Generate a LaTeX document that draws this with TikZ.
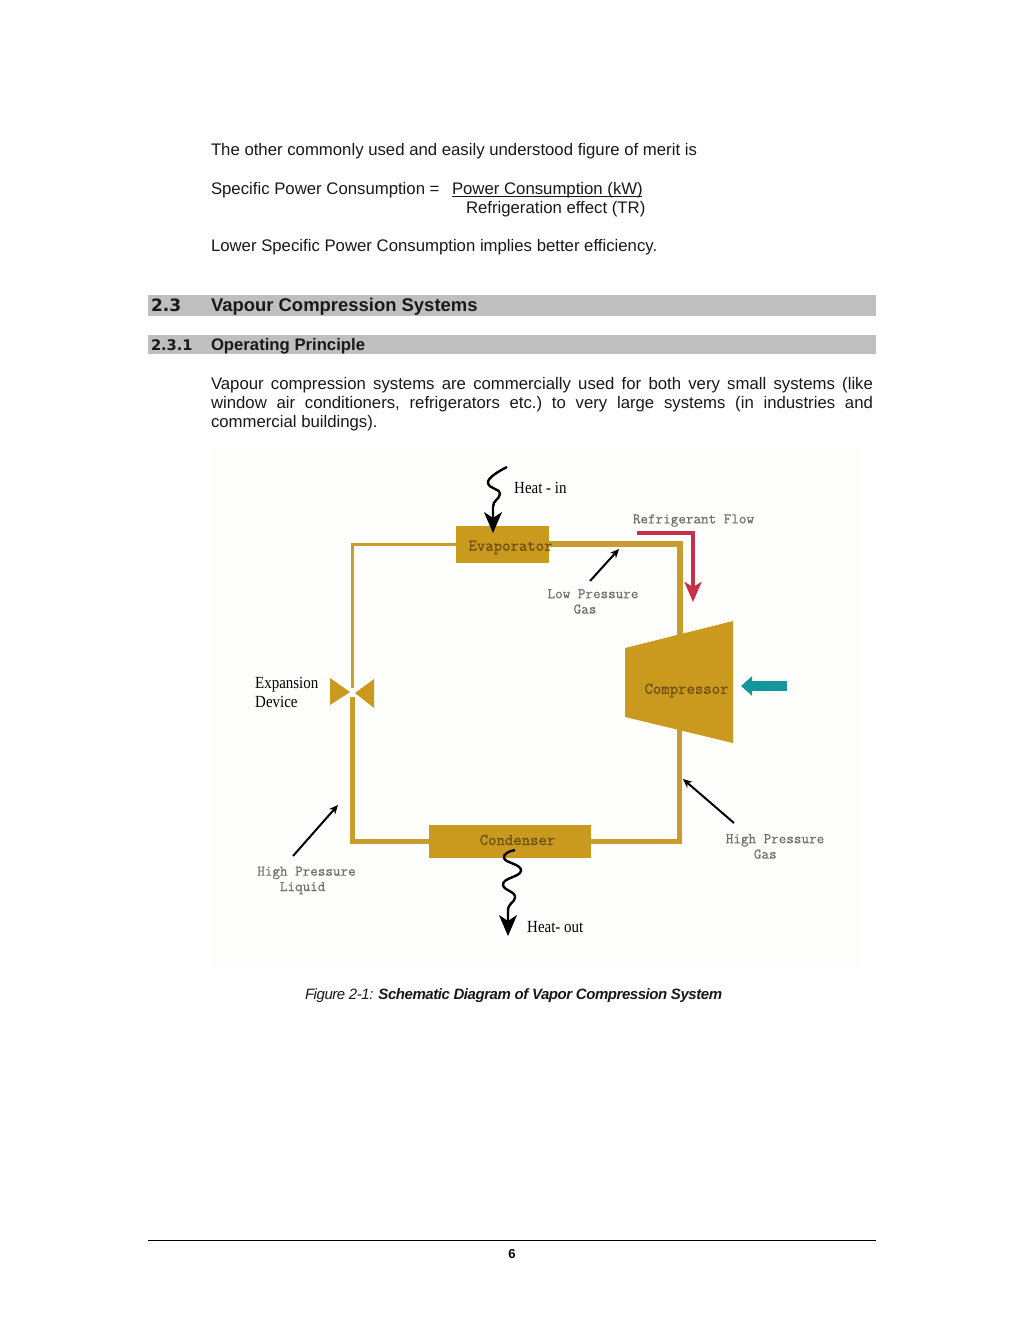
\documentclass[tikz,border=0pt]{standalone}
\usepackage{fontspec}
\setmainfont{Liberation Sans}
\newfontfamily\lserif[FakeStretch=0.88]{Liberation Serif}
\newfontfamily\dvb{DejaVu Sans Bold}
\newfontfamily\capfont[LetterSpace=-3]{Liberation Sans}
\newfontfamily\monoheavy[FakeBold=0.6]{Latin Modern Mono}
\usetikzlibrary{arrows.meta}
\definecolor{gold}{HTML}{C99A1E}
\definecolor{pipegold}{HTML}{C99C2E}
\definecolor{barg}{HTML}{BFBFBF}
\definecolor{labg}{HTML}{707070}
\definecolor{inbox}{HTML}{6B4E12}
\definecolor{redf}{HTML}{C8304A}
\definecolor{teala}{HTML}{14979B}
\definecolor{photo}{HTML}{FEFEFD}
\tikzset{
  x=1pt,y=-1pt,
  body/.style={anchor=base west,inner sep=0,outer sep=0,font=\frenchspacing\fontsize{16.75}{19}\selectfont,text=black!90},
  secbar/.style={fill=barg,draw=none,inner sep=0,anchor=north west,minimum width=728pt},
  unit/.style={fill=gold,draw=none,inner sep=0},
  unittxt/.style={inner sep=0,font=\monoheavy\fontsize{16.3}{18}\selectfont,text=inbox},
  pipe/.style={draw=pipegold,line width=5pt,line join=miter},
  pipethin/.style={draw=pipegold,line width=3pt},
  note/.style={inner sep=0,align=center,font=\monoheavy\fontsize{14.7}{15.4}\selectfont,text=labg},
  serifnote/.style={inner sep=0,align=left,anchor=base west,font=\lserif\fontsize{17}{18.5}\selectfont,text=black},
  pointer/.style={draw=black,line width=2pt,-{Stealth[length=9pt,width=8pt]}},
  heat/.style={draw=black,line width=2.4pt,-{Stealth[length=21pt,width=18pt,inset=6pt]}},
}
\begin{document}
\begin{tikzpicture}
\useasboundingbox (0,0) rectangle (1024,1326);
\fill[white] (0,0) rectangle (1024,1326);
\fill[photo] (211,447) rectangle (860,970);

% page text
\node[body] (t1) at (211,155) {The other commonly used and easily understood figure of merit is};
\node[body] (t2) at (211,194.5) {Specific Power Consumption =};
\node[body] (t3) at (452,194.5) {\rlap{\rule[-2.2pt]{190pt}{0.8pt}}Power Consumption (kW)};
\node[body] (t4) at (466,213.5) {Refrigeration effect (TR)};
\node[body] (t5) at (211,251) {Lower Specific Power Consumption implies better efficiency.};

\node[secbar,minimum height=21pt] (bar1) at (148,295) {};
\node[body,font=\dvb\fontsize{17}{20}\selectfont] (n1) at (151,311) {2.3};
\node[body,font=\bfseries\fontsize{18.45}{20}\selectfont] (h1) at (211,311) {Vapour Compression Systems};
\node[secbar,minimum height=19pt] (bar2) at (148,335) {};
\node[body,font=\dvb\fontsize{14.6}{18}\selectfont] (n2) at (151,350) {2.3.1};
\node[body,font=\bfseries\fontsize{16.7}{18}\selectfont] (h2) at (211,350) {Operating Principle};

\node[body] (p1) at (211,389) {\makebox[662pt][s]{Vapour compression systems are commercially used for both very small systems (like}};
\node[body] (p2) at (211,408) {\makebox[662pt][s]{window air conditioners, refrigerators etc.) to very large systems (in industries and}};
\node[body] (p3) at (211,427) {commercial buildings).};

% units
\node[unit,minimum width=93pt,minimum height=37pt] (evap) at (502.5,544) {};
\node[unit,minimum width=162pt,minimum height=33pt] (cond) at (510,841) {};
\coordinate (compTop) at (679.5,636);
\coordinate (compBot) at (679.5,728);
\coordinate (valve) at (352,692);
\coordinate (valveUp) at (352,688);
\coordinate (valveDown) at (352.5,697);

% pipes
\draw[pipe,line width=6pt] (evap.east) -| (compTop);
\draw[pipethin] (evap.west) -| (valveUp);
\draw[pipe] (valveDown) |- (cond.west);
\draw[pipe] (cond.east) -| (compBot);

% compressor and valve
\fill[gold] (625,648) -- (733,621) -- (733,743) -- (625,717) -- cycle;
\fill[gold] (330,678) -- (350,692) -- (330,705) -- cycle;
\fill[gold] (374,679) -- (355,693) -- (374,708) -- cycle;

% unit labels
\node[unittxt] (evapt) at (510.5,547.5) {Evaporator};
\node[unittxt] (condt) at (517.5,840) {Condenser};
\node[unittxt] (compt) at (686.5,690.5) {Compressor};

% heat squiggles
\coordinate (hi0) at (507,467);
\coordinate (hiEnd) at (493,533);
\draw[heat] (hi0) .. controls (499,471) and (487,478) .. (488,483)
  .. controls (489,489) and (501,489) .. (500,494)
  .. controls (499,500) and (493,500) .. (493,507) -- (hiEnd);
\coordinate (ho0) at (515,850);
\coordinate (hoEnd) at (508,936);
\draw[heat] (ho0) .. controls (509,851) and (503,854) .. (504,858)
  .. controls (505,863) and (522,864) .. (521,871)
  .. controls (520,877) and (502,878) .. (503,885)
  .. controls (504,891) and (516,891) .. (515,898)
  .. controls (514,903) and (508,903) .. (508,911) -- (hoEnd);
\node[serifnote] (hin) at (514,493.5) {Heat - in};
\node[serifnote] (hout) at (527,932.5) {Heat- out};
\node[serifnote] (exp) at (255,707) {Expansion\\Device};

% refrigerant flow
\node[note] (rf) at (693.5,520.5) {Refrigerant Flow};
\coordinate (rf0) at (637,533);
\coordinate (rf1) at (693,602);
\draw[redf,line width=3.2pt,-{Stealth[length=20pt,width=17pt,inset=5pt]}] (rf0) -| (rf1);

% teal arrow
\coordinate (ta0) at (787,686);
\coordinate (ta1) at (741,686);
\draw[teala,line width=10pt,-{Stealth[length=11pt,width=19pt,inset=0pt]}] (ta0) -- (ta1);

% pressure labels and pointers
\node[note] (lpg) at (593,601.5) {Low Pressure\\\hspace*{-16pt}Gas};
\coordinate (lp0) at (590,581);
\coordinate (lp1) at (619,549);
\draw[pointer] (lp0) -- (lp1);
\node[note] (hpg) at (775,846.5) {High Pressure\\\hspace*{-19.5pt}Gas};
\coordinate (hg0) at (734,823);
\coordinate (hg1) at (683,779);
\draw[pointer] (hg0) -- (hg1);
\node[note] (hpl) at (306.5,880.5) {High Pressure\\\hspace*{-7.7pt}Liquid};
\coordinate (hl0) at (293,856);
\coordinate (hl1) at (338,805);
\draw[pointer] (hl0) -- (hl1);

% caption and footer
\node[body,font=\capfont\fontsize{15}{18}\selectfont\itshape] (cap) at (305,999) {Figure 2-1: {\bfseries Schematic Diagram of Vapor Compression System}};
\coordinate (f0) at (148,1240.5);
\coordinate (f1) at (876,1240.5);
\draw[black,line width=0.9pt] (f0) -- (f1);
\node[inner sep=0,font=\bfseries\fontsize{13}{15}\selectfont] (pg) at (512,1254) {6};
\end{tikzpicture}
\end{document}
